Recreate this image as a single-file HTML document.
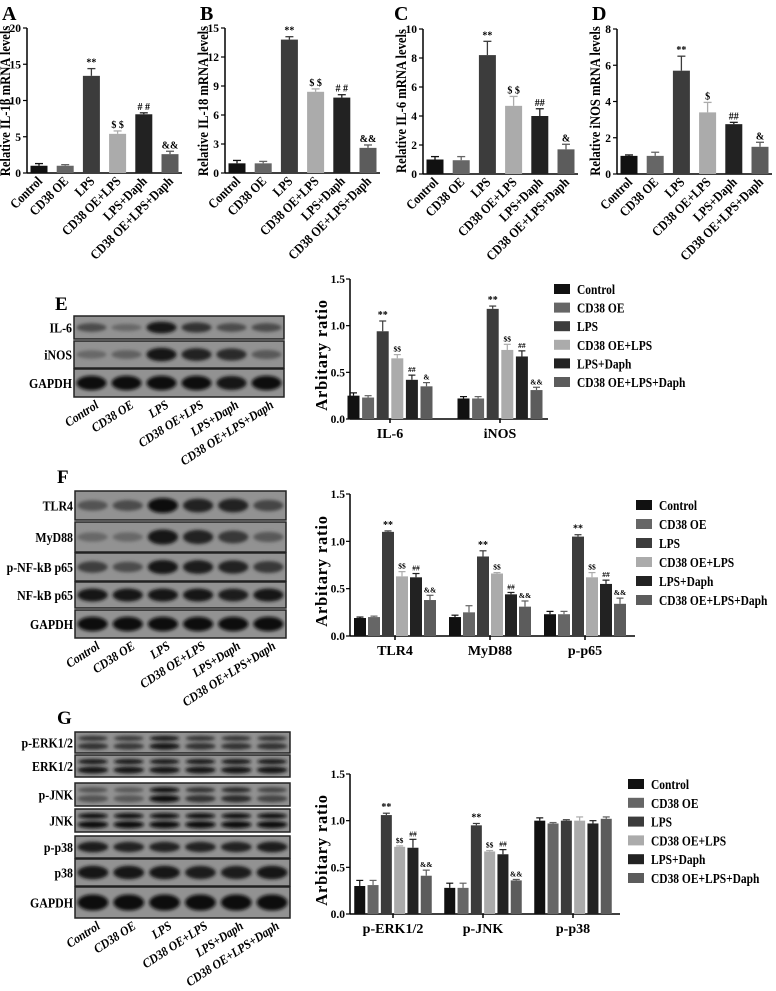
<!DOCTYPE html>
<html><head><meta charset="utf-8">
<style>
html,body{margin:0;padding:0;background:#fff;}
svg{display:block;font-family:"Liberation Serif",serif;font-weight:bold;}
</style></head>
<body>
<svg id="fig" width="776" height="991" viewBox="0 0 776 991" xmlns="http://www.w3.org/2000/svg">
<defs><filter id="blur" x="-20%" y="-50%" width="140%" height="200%"><feGaussianBlur stdDeviation="1.6"/></filter></defs>
</svg>
<script>
// ---------- data ----------
const groups = ["Control","CD38 OE","LPS","CD38 OE+LPS","LPS+Daph","CD38 OE+LPS+Daph"];
const colors = ["#111111","#666666","#3c3c3c","#ababab","#222222","#5c5c5c"];
const sigLabels = ["","","**","$ $","# #","&&"];

const il1bVals = [1.0,1.0,13.4,5.4,8.1,2.6];
const il1bErr  = [0.3,0.15,1.0,0.4,0.2,0.4];
const il18Vals = [1.0,1.0,13.8,8.4,7.8,2.6];
const il18Err  = [0.3,0.2,0.3,0.3,0.3,0.3];
const il6Vals  = [1.0,0.95,8.2,4.7,4.0,1.7];
const il6Err   = [0.2,0.25,0.95,0.65,0.5,0.35];
const inosVals = [1.0,1.0,5.7,3.4,2.75,1.5];
const inosErr  = [0.05,0.2,0.8,0.55,0.1,0.25];

const eCats = ["IL-6","iNOS"];
const eIL6  = [0.25,0.23,0.94,0.65,0.42,0.35];
const eINOS = [0.22,0.22,1.18,0.74,0.67,0.31];
const eIL6Err  = [0.03,0.02,0.11,0.04,0.05,0.04];
const eINOSErr = [0.02,0.02,0.03,0.06,0.06,0.03];

const fCats = ["TLR4","MyD88","p-p65"];
const fTLR4  = [0.19,0.20,1.10,0.63,0.62,0.38];
const fMYD   = [0.20,0.25,0.84,0.66,0.44,0.31];
const fP65   = [0.23,0.23,1.05,0.62,0.55,0.34];
const fTLR4Err = [0.01,0.01,0.01,0.05,0.04,0.05];
const fMYDErr  = [0.02,0.07,0.06,0.01,0.02,0.06];
const fP65Err  = [0.03,0.03,0.02,0.05,0.04,0.06];

const gCats = ["p-ERK1/2","p-JNK","p-p38"];
const gERK = [0.30,0.31,1.06,0.72,0.71,0.41];
const gJNK = [0.28,0.28,0.95,0.67,0.64,0.36];
const gP38 = [1.00,0.97,1.00,1.00,0.97,1.02];
const gERKErr = [0.06,0.05,0.02,0.01,0.09,0.06];
const gJNKErr = [0.05,0.05,0.02,0.01,0.05,0.01];
const gP38Err = [0.03,0.01,0.01,0.04,0.03,0.02];

const ticks15 = [0,0.5,1.0,1.5];
const ticks15Lab = ["0.0","0.5","1.0","1.5"];

// ---------- helpers ----------
const NS="http://www.w3.org/2000/svg";
const svg=document.getElementById('fig');
function mk(tag,attrs,parent){const e=document.createElementNS(NS,tag);for(const k in attrs)e.setAttribute(k,attrs[k]);(parent||svg).appendChild(e);return e;}
function txt(str,attrs,parent){const e=mk('text',attrs,parent);e.textContent=str;return e;}

// Single-series chart (panels A-D)
function singleChart(o){
  const g=mk('g',{});
  
  
  const y=v=>o.y0-(v/o.max)*(o.y0-o.yTop);
  const pl=txt(o.letter,{x:o.lx,y:20,'font-size':20},g);
  
  
  mk('line',{x1:o.ax,y1:o.yTop,x2:o.ax,y2:o.y0+0.5,stroke:'#000','stroke-width':1.5},g);
  mk('line',{x1:o.ax,y1:o.y0,x2:o.ax+155,y2:o.y0,stroke:'#000','stroke-width':1.5},g);
  o.ticks.forEach(t=>{
    mk('line',{x1:o.ax-4,y1:y(t),x2:o.ax,y2:y(t),stroke:'#000','stroke-width':1.2},g);
    const tl=txt(String(t),{x:o.ax-6,y:y(t)+4,'font-size':11.5,'text-anchor':'end'},g);
    
    
  });
  const yt=txt(o.title,{x:0,y:0,'font-size':14.5,'text-anchor':'middle',transform:`translate(${o.ax-17},101) rotate(-90) scale(0.87,1)`},g);
  
  
  o.vals.forEach((v,i)=>{
    const cx=o.ax+12+i*26.2;
    const b=mk('rect',{x:cx-8.5,y:y(v),width:17,height:o.y0-y(v),fill:colors[i]},g);
    
    
    const ye=y(v+o.err[i]);
    mk('line',{x1:cx,y1:ye,x2:cx,y2:y(v),stroke:colors[i],'stroke-width':1.3},g);
    mk('line',{x1:cx-4,y1:ye,x2:cx+4,y2:ye,stroke:colors[i],'stroke-width':1.3},g);
    const s=o.sig[i];
    if(s){const st=txt(s,{x:cx,y:ye-3,'font-size':10,'text-anchor':'middle'},g);
      
      }
    const xl=txt(groups[i],{x:0,y:0,'font-size':13.5,'text-anchor':'end',transform:`translate(${cx+4},${o.y0+9}) rotate(-45) scale(0.87,1)`},g);
    
    
  });
}

singleChart({name:'chart-il1b',letter:'A',lx:2,ax:27,yTop:28,y0:173,max:20,ticks:[0,5,10,15,20],title:'Relative IL-1β mRNA levels',vals:il1bVals,err:il1bErr,sig:sigLabels});
singleChart({name:'chart-il18',letter:'B',lx:200,ax:225,yTop:28,y0:173,max:15,ticks:[0,3,6,9,12,15],title:'Relative IL-18 mRNA levels',vals:il18Vals,err:il18Err,sig:sigLabels});
singleChart({name:'chart-il6',letter:'C',lx:394,ax:423,yTop:29,y0:174,max:10,ticks:[0,2,4,6,8,10],title:'Relative IL-6 mRNA levels',vals:il6Vals,err:il6Err,sig:["","","**","$ $","##","&"]});
singleChart({name:'chart-inos',letter:'D',lx:592,ax:617,yTop:29,y0:174,max:8,ticks:[0,2,4,6,8],title:'Relative iNOS mRNA levels',vals:inosVals,err:inosErr,sig:["","","**","$","##","&"]});

// Grouped chart (E-G)
function groupChart(o){
  const g=mk('g',{});
  
  
  const y=v=>o.y0-(v/1.5)*(o.y0-o.yTop);
  mk('line',{x1:o.ax,y1:o.yTop,x2:o.ax,y2:o.y0+0.5,stroke:'#000','stroke-width':1.5},g);
  mk('line',{x1:o.ax,y1:o.y0,x2:o.xEnd,y2:o.y0,stroke:'#000','stroke-width':1.5},g);
  ticks15.forEach((t,k)=>{
    mk('line',{x1:o.ax-4,y1:y(t),x2:o.ax,y2:y(t),stroke:'#000','stroke-width':1.2},g);
    const tl=txt(ticks15Lab[k],{x:o.ax-5,y:y(t)+4,'font-size':11.5,'text-anchor':'end'},g);
    
    
  });
  const yt=txt('Arbitary ratio',{x:0,y:0,'font-size':16.5,'text-anchor':'middle','letter-spacing':'0.8',transform:`translate(${o.ax-23},${(o.y0+o.yTop)/2+6}) rotate(-90)`},g);
  
  
  o.cats.forEach((c,j)=>{
    const gc=o.gx[j];
    mk('line',{x1:gc,y1:o.y0,x2:gc,y2:o.y0+4,stroke:'#000','stroke-width':1.5},g);
    const cl=txt(c,{x:gc,y:o.y0+19,'font-size':14,'text-anchor':'middle'},g);
    
    
    o.series[j].forEach((v,i)=>{
      const cx=gc+(i-2.5)*o.step;
      const b=mk('rect',{x:cx-o.bw/2,y:y(v),width:o.bw,height:o.y0-y(v),fill:colors[i]},g);
      
      
      const ye=y(v+o.errs[j][i]);
      mk('line',{x1:cx,y1:ye,x2:cx,y2:y(v),stroke:colors[i],'stroke-width':1.2},g);
      mk('line',{x1:cx-3.5,y1:ye,x2:cx+3.5,y2:ye,stroke:colors[i],'stroke-width':1.2},g);
      const s=o.sig[j][i];
      if(s){const st=txt(s,{x:cx,y:ye-3,'font-size':s==='**'?10:7.5,'text-anchor':'middle'},g);
        
        }
    });
  });
  groups.forEach((gname,i)=>{
    const ly=o.ly0+i*o.lstep;
    const sw=mk('rect',{x:o.lx,y:ly-5,width:16,height:10,fill:colors[i]},g);
    
    
    const lt=txt(gname,{x:0,y:0,'font-size':14,transform:`translate(${o.lx+23},${ly+5}) scale(0.82,1)`},g);
    
    
  });
}
const sigG=["","","**","$$","##","&&"];
groupChart({name:'chart-e',ax:350,yTop:279,y0:419,xEnd:548,cats:eCats,gx:[390,500],step:14.6,bw:12,series:[eIL6,eINOS],errs:[eIL6Err,eINOSErr],sig:[["","","**","$$","##","&"],sigG],lx:554,ly0:289,lstep:18.6});
groupChart({name:'chart-f',ax:350,yTop:494,y0:636,xEnd:635,cats:fCats,gx:[395,490,585],step:14,bw:12,series:[fTLR4,fMYD,fP65],errs:[fTLR4Err,fMYDErr,fP65Err],sig:[sigG,sigG,sigG],lx:636,ly0:505,lstep:19});
groupChart({name:'chart-g',ax:350,yTop:774,y0:914,xEnd:620,cats:gCats,gx:[393,483,573],step:13.3,bw:11,series:[gERK,gJNK,gP38],errs:[gERKErr,gJNKErr,gP38Err],sig:[sigG,sigG,["","","","","",""]],lx:628,ly0:784,lstep:18.8});

// ---------- western blots ----------
const eRows=["IL-6","iNOS","GAPDH"];
const eRowY=[[316,339],[341,368],[369,397]];
const eInt=[[0.55,0.35,0.95,0.75,0.55,0.55],[0.35,0.4,0.95,0.85,0.8,0.45],[1,1,1,1,0.95,1]];
const fRows=["TLR4","MyD88","p-NF-kB p65","NF-kB p65","GAPDH"];
const fRowY=[[491,520],[522,552],[553,581],[582,608],[610,638]];
const fInt=[[0.5,0.55,1,0.85,0.85,0.6],[0.35,0.35,0.95,0.85,0.7,0.45],[0.65,0.55,0.95,0.9,0.85,0.7],[0.95,0.95,0.95,0.95,0.9,0.95],[1,1,1,1,1,1]];
const gRows=["p-ERK1/2","ERK1/2","p-JNK","JNK","p-p38","p38","GAPDH"];
const gRowY=[[732,753],[755,777],[783,806],[809,832],[836,858],[859,886],[887,918]];
const gInt=[[0.75,0.7,0.95,0.75,0.75,0.75],[0.95,0.95,0.95,0.95,0.95,0.95],[0.5,0.45,1,0.75,0.8,0.6],[1,1,1,1,1,1],[0.9,0.85,0.85,0.85,0.85,0.9],[0.95,0.95,0.95,0.9,0.9,0.95],[1,1,1,1,1,1]];

function blot(o){
  const g=mk('g',{});
  
  
  const pl=txt(o.letter,{x:o.lx,y:o.ly,'font-size':19},g);
  
  
  const w=o.x2-o.x1, lw=w/6;
  o.rows.forEach((r,k)=>{
    const [a,b]=o.rowY[k];
    const box=mk('rect',{x:o.x1,y:a,width:w,height:b-a,fill:'#929292',stroke:'#222','stroke-width':1.5},g);
    
    
    const cy=(a+b)/2;
    const dbl = o.double && o.double[k];
    o.ints[k].forEach((v,i)=>{
      const cx=o.x1+lw*(i+0.5);
      const c=Math.round(150-135*v);
      const fill=`rgb(${c},${c},${c})`;
      if(dbl){
        mk('ellipse',{cx:cx,cy:a+(b-a)*0.3,rx:lw*0.42,ry:(b-a)*0.12,fill:fill,filter:'url(#blur)'},g);
        mk('ellipse',{cx:cx,cy:a+(b-a)*0.68,rx:lw*0.43,ry:(b-a)*0.16,fill:fill,filter:'url(#blur)'},g);
      } else {
        mk('ellipse',{cx:cx,cy:cy,rx:lw*0.43,ry:(b-a)*(0.1+0.16*v),fill:fill,filter:'url(#blur)'},g);
      }
    });
    const rl=txt(r,{x:0,y:0,'font-size':14,'text-anchor':'end',transform:`translate(${o.x1-2},${cy+5}) scale(0.85,1)`},g);
    
    
  });
  const lastB=o.rowY[o.rows.length-1][1];
  groups.forEach((gn,i)=>{
    const cx=o.x1+lw*(i+0.5);
    const t=txt(gn,{x:0,y:0,'font-size':13,'font-style':'italic','text-anchor':'end',transform:`translate(${cx+8},${lastB+10}) rotate(-33) scale(0.9,1)`},g);
    
    
  });
}
blot({name:'blot-e',letter:'E',lx:55,ly:310,x1:74,x2:284,rows:eRows,rowY:eRowY,ints:eInt});
blot({name:'blot-f',letter:'F',lx:57,ly:483,x1:75,x2:286,rows:fRows,rowY:fRowY,ints:fInt});
blot({name:'blot-g',letter:'G',lx:57,ly:724,x1:75,x2:290,rows:gRows,rowY:gRowY,ints:gInt,double:[true,true,true,true,false,false,false]});
</script>
</body></html>
